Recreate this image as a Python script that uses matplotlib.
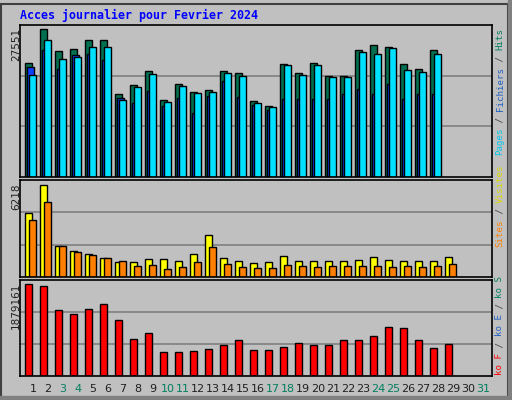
import matplotlib
matplotlib.use("Agg")
import matplotlib.pyplot as plt
import numpy as np

days = list(range(1, 32))
weekend = [3, 4, 10, 11, 17, 18, 24, 25, 31]

hits = [20660, 26830, 22840, 23200, 24830, 24830, 15050, 16680, 19220, 13960, 16860, 15410, 15770, 19220, 18850,
        13780, 12870, 20490, 18850, 20660, 18300, 18300, 23020, 23920, 23560, 20490, 19580, 23020]
pages = [19940, 23020, 19580, 22110, 22300, 21210, 14320, 13420, 15590, 12870, 14320, 11600, 14680, 17400, 14500,
         13060, 12140, 14140, 14140, 14140, 14140, 15050, 15950, 15050, 16860, 14140, 15050, 15050]
files = [18490, 24830, 21390, 21750, 23560, 23560, 13960, 16310, 18670, 13600, 16500, 15230, 15410, 18850, 18300,
         13420, 12690, 20300, 18490, 20300, 18120, 18120, 22660, 22300, 23380, 19400, 19040, 22300]
visits = [4100, 5900, 1990, 1670, 1470, 1220, 960, 960, 1150, 1150, 1020, 1470, 2690, 1220, 1020,
          900, 960, 1340, 1020, 1020, 1020, 1020, 1090, 1280, 1090, 1020, 1020, 1020, 1280]
sites = [3650, 4810, 1990, 1600, 1410, 1220, 1020, 700, 770, 510, 640, 960, 1920, 830, 640,
         580, 580, 770, 700, 640, 700, 700, 700, 700, 640, 700, 640, 700, 830]
bw = [1801000, 1762000, 1292000, 1214000, 1312000, 1409000, 1096000, 724000, 841000, 470000, 470000, 489000, 528000, 607000, 705000,
      509000, 509000, 568000, 646000, 607000, 607000, 705000, 705000, 783000, 959000, 940000, 705000, 548000, 626000]

W, H = 512, 400
fig = plt.figure(figsize=(5.12, 4.0), dpi=100, facecolor="#c0c0c0")
bg = "#c0c0c0"

def ax_at(x0, y0, x1, y1):
    return fig.add_axes([x0 / W, 1 - y1 / H, (x1 - x0) / W, (y1 - y0) / H], facecolor=bg)

px = 1 / 15.0
xlim = ((20 - 33) / 15 + 1, (492 - 33) / 15 + 1)

def style(ax, ymax):
    ax.set_xlim(*xlim)
    ax.set_ylim(0, ymax)
    ax.set_yticks([ymax / 3, 2 * ymax / 3])
    ax.yaxis.grid(True, color="#808080", lw=1.2)
    ax.set_axisbelow(True)
    ax.tick_params(left=False, bottom=False, labelleft=False, labelbottom=False)
    for s in ax.spines.values():
        s.set_color("black")
        s.set_linewidth(1.2)

ec = dict(edgecolor="black", linewidth=1.0, align="edge")

a1 = ax_at(20, 25, 492, 177)
d = np.array(days[:len(hits)])
a1.bar(d - 8 * px, hits, 7 * px, color="#007050", **ec)
a1.bar(d - 6 * px, pages, 7 * px, color="#1040ff", **ec)
a1.bar(d - 4 * px, files, 7 * px, color="#00e0ff", **ec)
style(a1, 27551)

a2 = ax_at(20, 180, 492, 277)
d2 = np.array(days[:len(visits)])
a2.bar(d2 - 8 * px, visits, 7 * px, color="#ffff00", **ec)
a2.bar(d2 - 4 * px, sites, 7 * px, color="#ff8000", **ec)
style(a2, 6218)

a3 = ax_at(20, 280, 492, 376)
d3 = np.array(days[:len(bw)])
a3.bar(d3 - 8 * px, bw, 7 * px, color="#ff0000", **ec)
style(a3, 1879161)

for dd in days:
    fig.text((33 + 15 * (dd - 1)) / W, 1 - 389 / H, str(dd), ha="center", va="center",
             fontsize=8, color="#008060" if dd in weekend else "#202020")

for y, t in [(28, "27551"), (183, "6218"), (283, "1879161")]:
    fig.text(16 / W, 1 - y / H, t, rotation=90, ha="center", va="top", fontsize=7.5, color="#202020")

fig.text(20 / W, 1 - 15 / H, "Acces journalier pour Fevrier 2024", fontsize=8.4, fontweight="bold",
         family="DejaVu Sans Mono", color="#0000ff", va="center")

cw = 5.5
def rlabel(ybot, pieces):
    y = ybot
    for t, c in pieces:
        fig.text(500 / W, 1 - y / H, t, rotation=90, ha="center", va="bottom", fontsize=6.6,
                 family="DejaVu Sans Mono", color=c)
        y -= cw * len(t)

rlabel(155, [("Pages", "#00c8e8"), (" / ", "#404040"), ("Fichiers", "#2060c0"), (" / ", "#404040"), ("Hits", "#008060")])
rlabel(247, [("Sites", "#ff8000"), (" / ", "#404040"), ("Visites", "#d8d800")])
rlabel(375, [("ko F", "#ff0000"), (" / ", "#404040"), ("ko E", "#2060c0"), (" / ", "#404040"), ("ko S", "#008060")])

fig.patches.append(plt.Rectangle((1 / W, 1 / H), 1 - 5 / W, 1 - 5 / H, transform=fig.transFigure,
                                 fill=False, edgecolor="#404040", lw=1.5))
fig.patches.append(plt.Rectangle((0, 0), 1, 4 / H, transform=fig.transFigure, color="#808080"))
fig.patches.append(plt.Rectangle((1 - 4 / W, 0), 4 / W, 1, transform=fig.transFigure, color="#808080"))

fig.savefig("out.png", dpi=100, facecolor=fig.get_facecolor())
